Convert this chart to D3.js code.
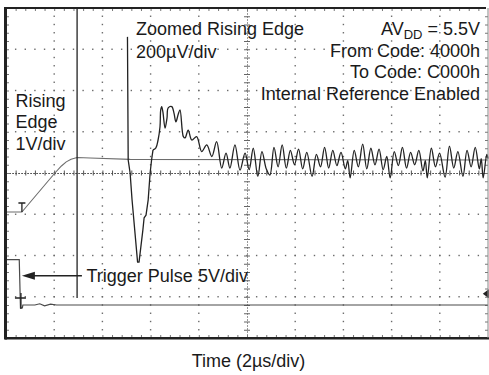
<!DOCTYPE html>
<html>
<head>
<meta charset="utf-8">
<script src="https://cdn.jsdelivr.net/npm/d3@7"></script>
<style>
  html, body { margin: 0; padding: 0; background: #fff; }
  svg { display: block; }
  text { font-family: "Liberation Sans", Arial, Helvetica, sans-serif; fill: #1a1a1a; }
</style>
</head>
<body>
<svg id="chart" width="489" height="375"></svg>
<script>
// ---- Data (time in µs, amplitude in screen divisions) ----
const timeDomain = [0, 20];          // 10 div x 2 µs/div
const divDomain = [-4, 4];           // 8 vertical divisions

// Rising edge, 1 V/div
const risingEdge = [
  [0, -0.945], [0.66, -0.945], [2.03, 0.0], [2.30, 0.17], [2.50, 0.27],
  [2.70, 0.335], [2.95, 0.375], [3.49, 0.365], [5.15, 0.33], [20, 0.315]
];

// Trigger pulse, 5 V/div
const triggerPulse = [
  [0, -2.10], [0.55, -2.10], [0.60, -3.27], [0.68, -3.27], [0.70, -3.20],
  [1.20, -3.20], [1.40, -3.17], [1.60, -3.22], [1.85, -3.18], [2.10, -3.20], [20, -3.20]
];

// Zoomed rising edge, 200 µV/div: clipped jump, then settling
const zoomJump = [[2.95, 4.0], [2.95, -3.03]];
const zoomDrop = [
  [5.04, 3.30], [5.07, 0.315], [5.15, 0.0], [5.23, -0.65], [5.46, -2.16],
  [5.52, -2.16], [5.68, -1.38], [5.73, -1.09], [5.81, -1.02], [5.90, -0.65],
  [5.98, 0.0], [6.04, 0.315], [6.10, 0.56]
];
const zoomSettle = [
  [6.10, 0.56], [6.22, 0.61], [6.31, 0.80],
  [6.39, 1.12], [6.42, 1.53], [6.46, 1.61], [6.51, 1.48], [6.60, 1.09],
  [6.68, 1.33], [6.73, 1.58], [6.88, 1.61], [6.97, 1.45], [7.05, 1.24],
  [7.14, 1.41], [7.22, 1.53], [7.36, 0.88], [7.43, 0.85], [7.56, 1.04],
  [7.71, 0.80], [7.91, 0.88], [8.12, 0.52], [8.33, 0.68], [8.54, 0.40],
  [8.74, 0.76], [8.95, 0.12], [9.13, 0.48], [9.29, 0.12], [9.50, 0.68],
  [9.71, 0.07], [9.92, 0.48], [10.09, 0.08], [10.26, 0.60], [10.45, -0.08],
  [10.62, 0.52], [10.80, 0.10], [10.95, -0.05], [11.12, 0.62], [11.29, 0.15],
  [11.46, 0.68], [11.63, 0.12], [11.80, 0.55], [11.97, 0.20], [12.14, 0.58],
  [12.31, 0.10], [12.48, 0.50], [12.70, -0.08], [12.88, 0.45], [13.05, 0.15],
  [13.22, 0.62], [13.39, 0.12], [13.56, 0.55], [13.73, 0.18], [13.90, 0.50],
  [14.08, 0.10], [14.18, 0.30], [14.28, -0.12], [14.45, 0.55], [14.62, 0.15],
  [14.80, 0.70], [14.97, 0.10], [15.14, 0.60], [15.31, 0.20], [15.48, 0.58],
  [15.65, 0.08], [15.80, 0.40], [15.94, -0.12], [16.11, 0.52], [16.28, 0.18],
  [16.45, 0.62], [16.62, 0.12], [16.79, 0.50], [16.96, 0.20], [17.13, 0.55],
  [17.30, 0.05], [17.40, 0.30], [17.48, -0.12], [17.65, 0.60], [17.82, 0.15],
  [17.99, 0.48], [18.22, -0.10], [18.40, 0.65], [18.58, 0.12], [18.75, 0.52],
  [18.96, -0.08], [19.13, 0.55], [19.30, 0.15], [19.47, 0.62], [19.64, 0.10],
  [19.72, 0.35], [19.80, -0.12], [19.95, 0.45], [20.0, 0.35]
];

// Marker positions
const ch1Marker = [0.66, -0.945];
const trigMarker = [0.62, -3.03];
const trigLevelMarker = [19.95, -2.93];
const arrowSpan = [0.66, 3.15, -2.49];   // from t, to t, at div

// Texts
const titleLeft = ["Zoomed Rising Edge", "200\u00B5V/div"];
const titleRight = ["From Code: 4000h", "To Code: C000h", "Internal Reference Enabled"];
const edgeLabel = ["Rising", "Edge", "1V/div"];
const triggerLabel = "Trigger Pulse 5V/div";
const xTitle = "Time (2\u00B5s/div)";

// ---- Scales ----
const svg = d3.select("#chart");
const x = d3.scaleLinear().domain(timeDomain).range([6, 488]);
const y = d3.scaleLinear().domain(divDomain).range([338, 8]);

const majorT = d3.range(2, 20, 2);
const majorV = d3.range(-3, 4, 1);
const minorT = d3.range(0.4, 20, 0.4);
const minorV = d3.range(-3.8, 4, 0.2);

// ---- Grid dots ----
const grid = svg.append("g").attr("fill", "#6a6a6a");
majorT.filter(t => t !== 10).forEach(t => {
  minorV.forEach(v => grid.append("rect").attr("x", x(t) - 0.7).attr("y", y(v) - 0.7).attr("width", 1.4).attr("height", 1.4));
});
majorV.filter(v => v !== 0).forEach(v => {
  minorT.forEach(t => grid.append("rect").attr("x", x(t) - 0.7).attr("y", y(v) - 0.7).attr("width", 1.4).attr("height", 1.4));
});

// ---- Center axes with ticks ----
const cx = svg.append("g").attr("transform", `translate(0,${y(0)})`)
  .call(d3.axisBottom(x).tickValues(minorT).tickSizeInner(2.5).tickSizeOuter(0).tickFormat(""));
cx.append("g").call(d3.axisTop(x).tickValues(minorT).tickSizeInner(2.5).tickSizeOuter(0).tickFormat(""));
cx.selectAll(".domain").attr("stroke", "#444").attr("stroke-dasharray", "1.2,1.8");
cx.selectAll(".tick line").attr("stroke", "#555");

const cy = svg.append("g").attr("transform", `translate(${x(10)},0)`)
  .call(d3.axisLeft(y).tickValues(minorV).tickSizeInner(3).tickSizeOuter(0).tickFormat(""));
cy.append("g").call(d3.axisRight(y).tickValues(minorV).tickSizeInner(3).tickSizeOuter(0).tickFormat(""));
cy.selectAll(".domain").attr("stroke", "#777").attr("stroke-dasharray", "1,2");
cy.selectAll(".tick line").attr("stroke", "#666");

// ---- Frame ticks ----
function frameAxis(gen, tr) {
  const g = svg.append("g").attr("transform", tr).call(gen);
  g.selectAll(".domain").remove();
  g.selectAll(".tick line").attr("stroke", "#777");
}
frameAxis(d3.axisBottom(x).tickValues(minorT).tickSize(-3).tickFormat(""), `translate(0,338)`);
frameAxis(d3.axisTop(x).tickValues(minorT).tickSize(-3).tickFormat(""), `translate(0,8)`);
frameAxis(d3.axisLeft(y).tickValues(minorV).tickSize(-3).tickFormat(""), `translate(6,0)`);
frameAxis(d3.axisRight(y).tickValues(minorV).tickSize(-3).tickFormat(""), `translate(488,0)`);

// ---- Traces ----
const line = d3.line().x(d => x(d[0])).y(d => y(d[1]));
const smooth = d3.line().x(d => x(d[0])).y(d => y(d[1])).curve(d3.curveCatmullRom.alpha(0.5));
svg.append("path").datum(risingEdge).attr("d", line).attr("fill", "none").attr("stroke", "#6d6d6d").attr("stroke-width", 1.1).attr("stroke-linejoin", "round");
svg.append("path").datum(triggerPulse).attr("d", line).attr("fill", "none").attr("stroke", "#4a4a4a").attr("stroke-width", 1.2);
svg.append("path").datum(zoomJump).attr("d", line).attr("fill", "none").attr("stroke", "#222").attr("stroke-width", 1.3);
svg.append("path").datum(zoomDrop).attr("d", line).attr("fill", "none").attr("stroke", "#222").attr("stroke-width", 1.3).attr("stroke-linejoin", "round");
svg.append("path").datum(zoomSettle).attr("d", smooth).attr("fill", "none").attr("stroke", "#222").attr("stroke-width", 1.3).attr("stroke-linejoin", "round");

// ---- Markers ----
const mk = svg.append("g").attr("stroke", "#222").attr("stroke-width", 1.3).attr("fill", "none");
mk.append("path").attr("d", `M${x(ch1Marker[0]) - 3.5},${y(ch1Marker[1]) - 9}h7M${x(ch1Marker[0])},${y(ch1Marker[1]) - 9}V${y(ch1Marker[1])}`);
mk.append("path").attr("d", `M${x(trigMarker[0]) - 6},${y(trigMarker[1])}h11M${x(trigMarker[0])},${y(trigMarker[1]) - 5}V${y(trigMarker[1]) + 11}`);
svg.append("path").attr("fill", "#222")
  .attr("d", `M${x(trigLevelMarker[0]) - 4},${y(trigLevelMarker[1])}l6,-4.5v9z`);

// Trigger arrow
svg.append("line").attr("x1", x(arrowSpan[0]) + 10).attr("x2", x(arrowSpan[1]))
  .attr("y1", y(arrowSpan[2])).attr("y2", y(arrowSpan[2])).attr("stroke", "#222").attr("stroke-width", 1.5);
svg.append("path").attr("fill", "#222")
  .attr("d", `M${x(arrowSpan[0])},${y(arrowSpan[2])}l13,-4v8z`);

// ---- Frame ----
svg.append("line").attr("x1", 5.5).attr("x2", 5.5).attr("y1", 7).attr("y2", 339.5).attr("stroke", "#222").attr("stroke-width", 3);
svg.append("line").attr("x1", 5).attr("x2", 486).attr("y1", 8).attr("y2", 8).attr("stroke", "#222").attr("stroke-width", 2);
svg.append("line").attr("x1", 5).attr("x2", 489).attr("y1", 338.3).attr("y2", 338.3).attr("stroke", "#222").attr("stroke-width", 2.5);
svg.append("line").attr("x1", 488).attr("x2", 488).attr("y1", 8).attr("y2", 338).attr("stroke", "#888").attr("stroke-width", 1);

// ---- Texts ----
const fs = 18;
svg.append("text").attr("x", 136).attr("y", 35).attr("font-size", fs).text(titleLeft[0]);
svg.append("text").attr("x", 136).attr("y", 57.5).attr("font-size", fs).text(titleLeft[1]);

const av = svg.append("text").attr("x", 480).attr("y", 35).attr("font-size", fs).attr("text-anchor", "end");
av.append("tspan").text("AV");
av.append("tspan").attr("font-size", 13).attr("dy", 4).text("DD");
av.append("tspan").attr("dy", -4).text(" = 5.5V");
titleRight.forEach((s, i) => {
  svg.append("text").attr("x", 480).attr("y", 56.7 + i * 21.7).attr("font-size", fs).attr("text-anchor", "end").text(s);
});
edgeLabel.forEach((s, i) => {
  svg.append("text").attr("x", 15.5).attr("y", 106.7 + i * 21.7).attr("font-size", fs).text(s);
});
svg.append("text").attr("x", 86.5).attr("y", 282.3).attr("font-size", fs).text(triggerLabel);
svg.append("text").attr("x", 248.5).attr("y", 366.7).attr("font-size", fs).attr("text-anchor", "middle").text(xTitle);
</script>
</body>
</html>
